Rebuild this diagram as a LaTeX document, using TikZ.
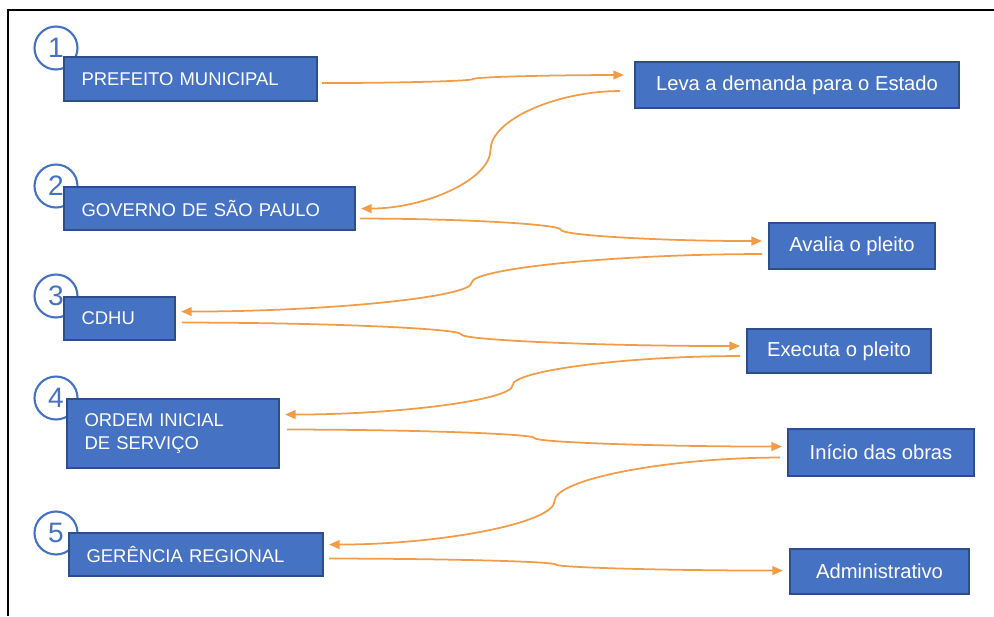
\documentclass[tikz,border=0pt]{standalone}
\usepackage{fontspec}
\setmainfont{Liberation Sans}
\usetikzlibrary{arrows.meta,calc}

\definecolor{boxblue}{RGB}{70,114,196}
\definecolor{boxedge}{RGB}{44,78,138}
\definecolor{linkorange}{RGB}{242,156,72}

\tikzset{
	box/.style={draw=boxedge, fill=boxblue, line width=1.2pt, text=white, anchor=north west},
	lbox/.style={box, inner xsep=0.35cm, align=left, font=\fontsize{10.5}{13.6}\selectfont},
	rbox/.style={box, align=center, font=\fontsize{11.5}{13}\selectfont},
	num/.style={circle, draw=boxblue, line width=1.2pt, fill=white, minimum size=0.86cm, inner sep=0pt, text=boxblue, font=\fontsize{16}{16}\selectfont},
	link/.style={draw=linkorange, line width=1pt, -{Triangle[length=6pt,width=5pt]}, sconn},
	sconn/.style={to path={
		let \p1=(\tikztostart), \p2=(\tikztotarget),
		    \n1={0.5*(\x1+\x2)}, \n2={0.5*(\y1+\y2)},
		    \n3={0.5*(\x1+\n1)}, \n4={0.5*(\x2+\n1)},
		    \n5={0.75*\y1+0.25*\y2}, \n6={0.25*\y1+0.75*\y2} in
		.. controls (\n3,\y1) and (\n1,\n5) .. (\n1,\n2)
		.. controls (\n1,\n6) and (\n4,\y2) .. (\x2,\y2)}}
}

\begin{document}
\begin{tikzpicture}[x=0.02cm, y=-0.02cm]
	\useasboundingbox (0,0) rectangle (994,616);
	\draw[line width=0.9pt] (994,10) -- (8,10) -- (8,616);

	% step numbers
	\node[num] (n1) at (56,48) {1};
	\node[num] (n2) at (56,186) {2};
	\node[num] (n3) at (56,296) {3};
	\node[num] (n4) at (56,398) {4};
	\node[num] (n5) at (56,533) {5};

	% left column
	\node[lbox, text width=4.36cm, minimum height=0.88cm] (pref) at (63,56) {PREFEITO MUNICIPAL};
	\node[lbox, text width=5.12cm, minimum height=0.86cm] (gov) at (63,186) {GOVERNO DE SÃO PAULO};
	\node[lbox, text width=1.52cm, minimum height=0.86cm] (cdhu) at (63,296) {CDHU};
	\node[lbox, text width=3.54cm, minimum height=1.38cm] (ordem) at (66,398) {ORDEM INICIAL\\DE SERVIÇO};
	\node[lbox, text width=4.38cm, minimum height=0.86cm] (ger) at (68,532) {GERÊNCIA REGIONAL};

	% right column
	\node[rbox, minimum width=6.48cm, minimum height=0.92cm] (leva) at (634,61) {Leva a demanda para o Estado};
	\node[rbox, minimum width=3.32cm, minimum height=0.92cm] (aval) at (768,222) {Avalia o pleito};
	\node[rbox, minimum width=3.68cm, minimum height=0.88cm] (exec) at (746,328) {Executa o pleito};
	\node[rbox, minimum width=3.72cm, minimum height=0.94cm] (inic) at (787,428) {Início das obras};
	\node[rbox, minimum width=3.58cm, minimum height=0.90cm] (adm) at (789,548) {Administrativo};

	% connectors
	\draw[link] ([shift={(4,4)}]pref.east) to ([shift={(-10,-10)}]leva.west);
	\draw[link] ([shift={(-14,6)}]leva.west) to ([shift={(5,0)}]gov.east);
	\draw[link] ([shift={(4,10)}]gov.east) to ([shift={(-6,-5)}]aval.west);
	\draw[link] ([shift={(-6,8)}]aval.west) to ([shift={(5,-7)}]cdhu.east);
	\draw[link] ([shift={(6,4)}]cdhu.east) to ([shift={(-6,-5)}]exec.west);
	\draw[link] ([shift={(-6,5)}]exec.west) to ([shift={(5,-19)}]ordem.east);
	\draw[link] ([shift={(7,-4)}]ordem.east) to ([shift={(-5,-6)}]inic.west);
	\draw[link] ([shift={(-7,5)}]inic.west) to ([shift={(5,-10)}]ger.east);
	\draw[link] ([shift={(5,4)}]ger.east) to ([shift={(-6,-1)}]adm.west);
\end{tikzpicture}
\end{document}
